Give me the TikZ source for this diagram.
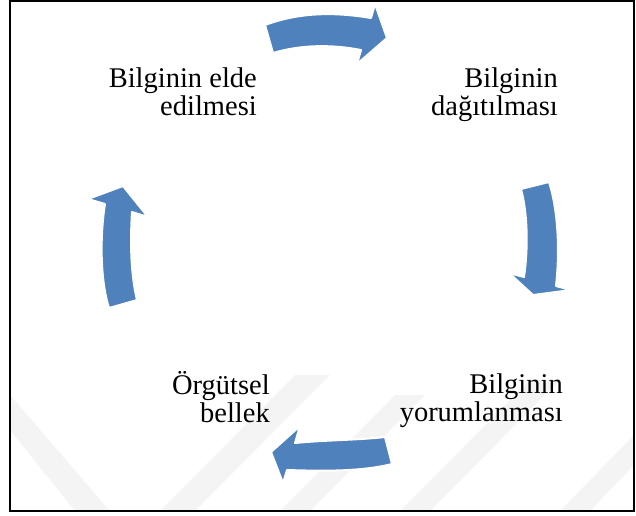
\documentclass[tikz,border=0pt]{standalone}
\usepackage{fontspec}
\setmainfont{Liberation Serif}
\usetikzlibrary{positioning}
\definecolor{arrowblue}{RGB}{79,129,189}
\definecolor{markgray}{RGB}{244,244,244}

\begin{document}
\begin{tikzpicture}[x=1pt, y=-1pt,
    stagetext/.style={font=\fontsize{28.5}{28}\selectfont, align=right, anchor=base east, inner sep=0pt},
    cyclearrow/.style={fill=arrowblue, draw=white, line width=2pt, line join=round},
    markband/.style={fill=markgray, draw=none}]
    \useasboundingbox (0,0) rectangle (636,515);

    % faint background stripes
    \fill[markband] (10,395) -- (10,430) -- (75,511) -- (110,511) -- cycle;
    \fill[markband] (160,511) -- (195,511) -- (330,375) -- (295,375) -- cycle;
    \fill[markband] (280,511) -- (310,511) -- (425,395) -- (395,395) -- cycle;
    \fill[markband] (400,511) -- (430,511) -- (560,380) -- (530,380) -- cycle;
    \fill[markband] (560,511) -- (590,511) -- (634,465) -- (634,435) -- cycle;

    % stages (anchored on the last line)
    \node[stagetext] (elde) at (257,115) {Bilginin elde\\edilmesi};
    \node[stagetext] (dagitim) at (558,115) {Bilginin\\dağıtılması};
    \node[stagetext] (yorum) at (563,421) {Bilginin\\yorumlanması};
    \node[stagetext] (bellek) at (270,422) {Örgütsel\\bellek};

    % curved arrows
    \draw[cyclearrow] (265,25) .. controls (300,12) and (335,12) .. (371,18)
        -- (375,4) -- (387,38) -- (357,64) -- (361,50)
        .. controls (330,44) and (300,45) .. (273,53) -- cycle;
    \draw[cyclearrow] (521,189) .. controls (528,215) and (528,250) .. (524,277)
        -- (509,273) -- (533,295) -- (571,290) -- (556,286)
        .. controls (560,250) and (558,210) .. (549,182) -- cycle;
    \draw[cyclearrow] (385,437) .. controls (360,440) and (325,440) .. (295,443)
        -- (300,426) -- (271,452) -- (283,483) -- (287,470)
        .. controls (320,471) and (360,472) .. (392,464) -- cycle;
    \draw[cyclearrow] (109,308) .. controls (100,280) and (100,235) .. (105,204)
        -- (88,199) -- (123,186) -- (148,217) -- (132,212)
        .. controls (130,245) and (131,275) .. (137,300) -- cycle;

    \draw[line width=2pt] (10,1) rectangle (634,511);
\end{tikzpicture}
\end{document}
